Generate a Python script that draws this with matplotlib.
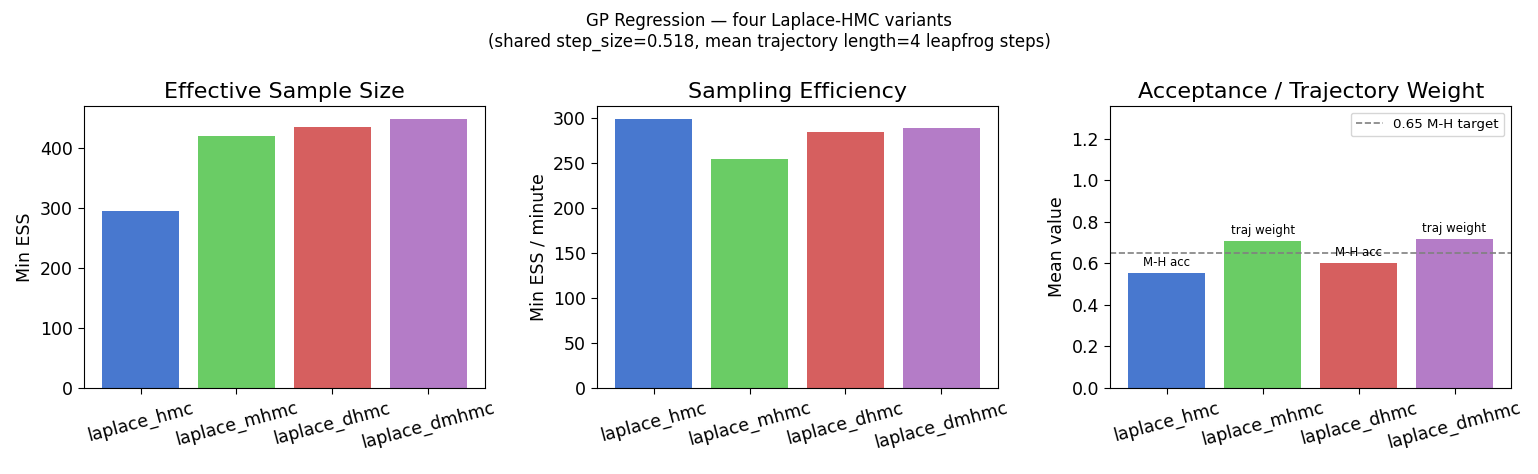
import numpy as np
import matplotlib
matplotlib.use("Agg")
import matplotlib.pyplot as plt

# values
methods = ["laplace_hmc", "laplace_mhmc", "laplace_dhmc", "laplace_dmhmc"]
min_ess = [295, 420, 434, 447]
ess_per_min = [298.5, 255, 284, 289.5]
accept = [0.553, 0.707, 0.601, 0.717]
accept_labels = ["M-H acc", "traj weight", "M-H acc", "traj weight"]
target = 0.65

colors = ["#4878CF", "#6ACC65", "#D65F5F", "#B47CC7"]

fig, axes = plt.subplots(1, 3, figsize=(15.38, 4.74), dpi=100)
fig.subplots_adjust(left=0.0546, right=0.9825, top=0.7764, bottom=0.1814, wspace=0.28)

x = np.arange(len(methods))

ax = axes[0]
ax.bar(x, min_ess, color=colors)
ax.set_title("Effective Sample Size", fontsize=16)
ax.set_ylabel("Min ESS", fontsize=12.5)

ax = axes[1]
ax.bar(x, ess_per_min, color=colors)
ax.set_title("Sampling Efficiency", fontsize=16)
ax.set_ylabel("Min ESS / minute", fontsize=12.5)

ax = axes[2]
ax.bar(x, accept, color=colors)
for xi, v, lab in zip(x, accept, accept_labels):
    ax.text(xi, v + 0.02, lab, ha="center", va="bottom", fontsize=8.5)
ax.axhline(target, color="gray", linestyle="--", linewidth=1.2, label=f"{target} M-H target")
ax.set_ylim(0, 1.357)
ax.set_title("Acceptance / Trajectory Weight", fontsize=16)
ax.set_ylabel("Mean value", fontsize=12.5)
ax.legend(loc="upper right", fontsize=9.6)

for ax in axes:
    ax.set_xticks(x)
    ax.set_xticklabels(methods, rotation=15, fontsize=12.5)
    ax.tick_params(axis="y", labelsize=12.5)
    ax.tick_params(length=4.5)

fig.suptitle("GP Regression — four Laplace-HMC variants\n"
             "(shared step_size=0.518, mean trajectory length=4 leapfrog steps)",
             fontsize=12, y=0.975, va="top")

fig.savefig("out.png", dpi=100)
